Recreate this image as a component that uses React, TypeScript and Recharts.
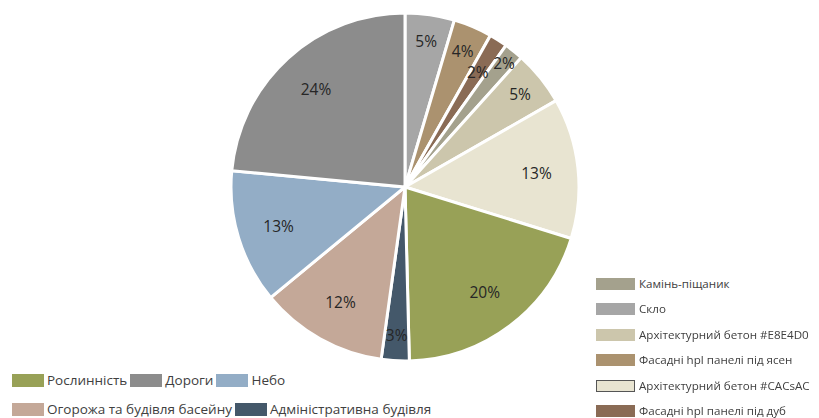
import React from 'react';
import { PieChart, Pie, Cell, Legend } from 'recharts';

// slices clockwise from 12 o'clock
const names = [
    'Скло',
    'Фасадні hpl панелі під ясен',
    'Фасадні hpl панелі під дуб',
    'Камінь-піщаник',
    'Архітектурний бетон #E8E4D0',
    'Архітектурний бетон #CACsAC',
    'Рослинність',
    'Адміністративна будівля',
    'Огорожа та будівля басейну',
    'Небо',
    'Дороги',
];
const values = [4.6, 3.6, 1.7, 1.8, 5.1, 13.1, 19.9, 2.6, 11.9, 12.5, 23.6];
const colors = [
    '#A6A6A6',
    '#AB926F',
    '#8A6B55',
    '#A4A18D',
    '#CCC6AC',
    '#E8E4D1',
    '#98A157',
    '#44586A',
    '#C4A898',
    '#93ADC6',
    '#8C8C8C',
];

// legend groups (by slice name)
const bottomLegend = [
    ['Рослинність', 'Дороги', 'Небо'],
    ['Огорожа та будівля басейну', 'Адміністративна будівля'],
];
const sideLegend = [
    'Камінь-піщаник',
    'Скло',
    'Архітектурний бетон #E8E4D0',
    'Фасадні hpl панелі під ясен',
    'Архітектурний бетон #CACsAC',
    'Фасадні hpl панелі під дуб',
];

const data = names.map((name, i) => ({ name, value: values[i], fill: colors[i] }));
const colorOf = (n: string) => colors[names.indexOf(n)];

const FONT = '"Open Sans", "Noto Sans", sans-serif';
const RAD = Math.PI / 180;

const renderLabel = (props: any) => {
    const { cx, cy, midAngle, outerRadius, value, index } = props;
    // tiny neighbouring slices get staggered labels so they don't collide
    let k = value < 6 ? 0.85 : 0.76;
    if (value < 2.5 && value > 0) k = index % 2 === 0 ? 0.78 : 0.91;
    const r = outerRadius * k;
    const x = cx + r * Math.cos(-midAngle * RAD);
    const y = cy + r * Math.sin(-midAngle * RAD);
    return (
        <text
            x={x}
            y={y}
            fill="#262626"
            fontSize={15.5}
            fontFamily={FONT}
            textAnchor="middle"
            dominantBaseline="central"
        >
            {Math.round(value)}%
        </text>
    );
};

function Swatch({ color, w, h, border }: { color: string; w: number; h: number; border?: boolean }) {
    return (
        <span
            style={{
                display: 'inline-block',
                width: w,
                height: h,
                background: color,
                boxSizing: 'border-box',
                border: border ? '1px solid #555' : 'none',
                flexShrink: 0,
            }}
        />
    );
}

function ChartLegend() {
    return (
        <div style={{ position: 'relative', width: 819, height: 418, fontFamily: FONT, color: '#404040' }}>
            {bottomLegend.map((row, ri) => (
                <div
                    key={ri}
                    style={{
                        position: 'absolute',
                        left: 12,
                        top: 372 + ri * 29,
                        display: 'flex',
                        alignItems: 'center',
                        fontSize: 13.5,
                        lineHeight: '16px',
                        whiteSpace: 'nowrap',
                    }}
                >
                    {row.map((n) => (
                        <span key={n} style={{ display: 'flex', alignItems: 'center', marginRight: 3 }}>
                            <Swatch color={colorOf(n)} w={32} h={13} />
                            <span style={{ marginLeft: 3 }}>{n}</span>
                        </span>
                    ))}
                </div>
            ))}
            {sideLegend.map((n, i) => (
                <div
                    key={n}
                    style={{
                        position: 'absolute',
                        left: 596,
                        top: 276 + i * 25.4,
                        display: 'flex',
                        alignItems: 'center',
                        fontSize: 11.6,
                        lineHeight: '16px',
                        whiteSpace: 'nowrap',
                    }}
                >
                    <Swatch color={colorOf(n)} w={39} h={12} border={n.includes('CACsAC')} />
                    <span style={{ marginLeft: 4 }}>{n}</span>
                </div>
            ))}
        </div>
    );
}

export default function App() {
    return (
        <div style={{ position: 'fixed', left: 0, top: 0, width: 819, height: 418, background: '#fff' }}>
            <PieChart width={819} height={418} margin={{ top: 0, right: 0, bottom: 0, left: 0 }}>
                <Pie
                    data={data}
                    dataKey="value"
                    nameKey="name"
                    cx={405}
                    cy={187}
                    outerRadius={174}
                    startAngle={90}
                    endAngle={-270}
                    stroke="#ffffff"
                    strokeWidth={3}
                    label={renderLabel}
                    labelLine={false}
                    isAnimationActive={false}
                >
                    {data.map((d, i) => (
                        <Cell key={`cell-${i}`} fill={d.fill} />
                    ))}
                </Pie>
                <Legend
                    content={() => <ChartLegend />}
                    wrapperStyle={{ position: 'absolute', left: 0, top: 0, width: 819, height: 418 }}
                />
            </PieChart>
        </div>
    );
}
